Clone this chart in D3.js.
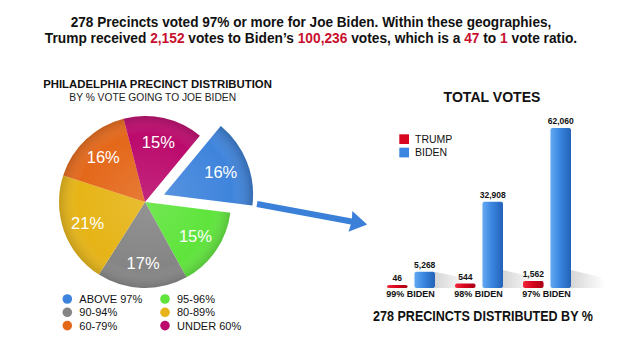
<!DOCTYPE html>
<html><head><meta charset="utf-8">
<script src="https://cdn.jsdelivr.net/npm/d3@7"></script>
<style>
html,body{margin:0;padding:0;background:#fff;}
svg{display:block;font-family:"Liberation Sans",Arial,Helvetica,sans-serif;}
</style></head>
<body>
<svg id="chart" width="640" height="360"></svg>
<script>
// ---------- DATA ----------
const titleLine1 = [["278 Precincts voted 97% or more for Joe Biden. Within these geographies,", false]];
const titleLine2 = [["Trump received ", false], ["2,152", true], [" votes to Biden\u2019s ", false], ["100,236", true], [" votes, which is a ", false], ["47", true], [" to ", false], ["1", true], [" vote ratio.", false]];
const pieTitle = "PHILADELPHIA PRECINCT DISTRIBUTION";
const pieSubtitle = "BY % VOTE GOING TO JOE BIDEN";
const pieCategories = ["ABOVE 97%", "95-96%", "90-94%", "80-89%", "60-79%", "UNDER 60%"];
const pieValues = [16, 15, 17, 21, 16, 15];
const barTitle = "TOTAL VOTES";
const barFooter = "278 PRECINCTS DISTRIBUTED BY %";
const barCategories = ["99% BIDEN", "98% BIDEN", "97% BIDEN"];
const seriesNames = ["TRUMP", "BIDEN"];
const trumpVotes = [46, 544, 1562];
const bidenVotes = [5268, 32908, 62060];

// ---------- STYLE ----------
const pieColors = ["#3f84dc", "#5fe43c", "#858585", "#e6b416", "#e4681a", "#bb0a6c"];
const seriesColors = {TRUMP: ["#f0283a", "#d8061e", "#a80014"], BIDEN: ["#64aaf2", "#3a86e0", "#2462b8"]};
const red = "#c8102e";

const svg = d3.select("#chart");
const defs = svg.append("defs");

function fitText(sel, cx, target) {
  const w = sel.node().getComputedTextLength();
  const s = target / w;
  sel.attr("transform", `translate(${cx},0) scale(${s},1) translate(${-cx},0)`);
}

// ---------- TITLE ----------
function titleLine(parts, y, width) {
  const t = svg.append("text").attr("x", 311).attr("y", y).attr("text-anchor", "middle")
    .attr("font-size", 14).attr("font-weight", "bold").attr("fill", "#111");
  parts.forEach(p => t.append("tspan").text(p[0]).attr("fill", p[1] ? red : "#111"));
  fitText(t, 311, width);
}
titleLine(titleLine1, 26.7, 481);
titleLine(titleLine2, 43.3, 533);

// ---------- PIE ----------
const cx = 145, cy = 202, R = 86, Rx = 89;
const pieTitleT = svg.append("text").attr("x", 157.5).attr("y", 88).attr("text-anchor", "middle")
  .attr("font-size", 11.5).attr("font-weight", "bold").attr("fill", "#111").text(pieTitle);
fitText(pieTitleT, 157.5, 229);
const pieSubT = svg.append("text").attr("x", 152.7).attr("y", 101.3).attr("text-anchor", "middle")
  .attr("font-size", 10).attr("fill", "#222").text(pieSubtitle);
fitText(pieSubT, 152.7, 167);

const startA = 39.6 * Math.PI / 180;
const pie = d3.pie().sort(null).value(d => d).startAngle(startA).endAngle(startA + 2 * Math.PI);
const arcs = pie(pieValues);

const shade = defs.append("radialGradient").attr("id", "pieShade").attr("gradientUnits", "userSpaceOnUse")
  .attr("cx", 0).attr("cy", 0).attr("r", 90);
shade.append("stop").attr("offset", "0%").attr("stop-color", "#fff").attr("stop-opacity", 0.12);
shade.append("stop").attr("offset", "75%").attr("stop-color", "#fff").attr("stop-opacity", 0.0);
shade.append("stop").attr("offset", "100%").attr("stop-color", "#000").attr("stop-opacity", 0.22);

const sliceG = svg.append("g");
arcs.forEach((a, i) => {
  const exploded = i === 0;
  const r = exploded ? Rx : R;
  const mid = (a.startAngle + a.endAngle) / 2;
  const off = exploded ? 20.5 : 0;
  const ox = cx + off * Math.sin(mid), oy = cy - off * Math.cos(mid);
  const arc = d3.arc().innerRadius(0).outerRadius(r);
  const g = sliceG.append("g").attr("transform", `translate(${ox},${oy})`);
  g.append("path").attr("d", arc(a)).attr("fill", pieColors[i]);
  g.append("path").attr("d", arc(a)).attr("fill", "url(#pieShade)");
  const lab = d3.arc().innerRadius(61).outerRadius(61);
  const [lx, ly] = lab.centroid(a);
  g.append("text").attr("x", lx).attr("y", ly).attr("dy", "0.36em").attr("text-anchor", "middle")
    .attr("font-size", 16.5).attr("fill", "#fff").text(a.data + "%");
});

// pie legend
const legG = svg.append("g");
pieCategories.forEach((c, i) => {
  const col = i % 2, row = Math.floor(i / 2);
  const x = col === 0 ? 67.3 : 165, y = 299 + row * 13.3;
  legG.append("circle").attr("cx", x).attr("cy", y).attr("r", 4.8).attr("fill", pieColors[i]);
  legG.append("text").attr("x", x + 12).attr("y", y).attr("dy", "0.36em").attr("font-size", 11)
    .attr("fill", "#111").text(c);
});

// ---------- ARROW ----------
const arrowG = svg.append("g").attr("transform", "translate(257,204) rotate(10.5)");
arrowG.append("path").attr("d", "M0,-3 L96,-3 L95,-10.5 L112,0 L95,10.5 L96,3 L0,3 Z").attr("fill", "#3a7fd8");

// ---------- BAR CHART ----------
const tv = svg.append("text").attr("x", 492).attr("y", 101.7).attr("text-anchor", "middle")
  .attr("font-size", 14).attr("font-weight", "bold").attr("fill", "#111").text(barTitle);
fitText(tv, 492, 97);
const ft = svg.append("text").attr("x", 483).attr("y", 321).attr("text-anchor", "middle")
  .attr("font-size", 14).attr("font-weight", "bold").attr("fill", "#111").text(barFooter);
fitText(ft, 483, 220);

// legend
seriesNames.forEach((s, i) => {
  const y = 134.3 + i * 13.4;
  svg.append("rect").attr("x", 399.3).attr("y", y).attr("width", 9.7).attr("height", 9.7).attr("fill", seriesColors[s][1]);
  svg.append("text").attr("x", 415).attr("y", y + 4.9).attr("dy", "0.36em").attr("font-size", 10.5)
    .attr("fill", "#111").text(s);
});

seriesNames.forEach(s => {
  const lg = defs.append("linearGradient").attr("id", "bar" + s).attr("x1", 0).attr("x2", 1).attr("y1", 0).attr("y2", 0);
  lg.append("stop").attr("offset", "0%").attr("stop-color", seriesColors[s][0]);
  lg.append("stop").attr("offset", "45%").attr("stop-color", seriesColors[s][1]);
  lg.append("stop").attr("offset", "100%").attr("stop-color", seriesColors[s][2]);
});
const sh = defs.append("linearGradient").attr("id", "shadow").attr("x1", 0).attr("x2", 1).attr("y1", 0).attr("y2", 0);
sh.append("stop").attr("offset", "0%").attr("stop-color", "#000").attr("stop-opacity", 0.16);
sh.append("stop").attr("offset", "100%").attr("stop-color", "#000").attr("stop-opacity", 0);

const baseY = 288, slab = 3;
const x0 = d3.scaleBand().domain(barCategories).range([377, 581]);
const x1 = d3.scaleBand().domain(seriesNames).range([10, 58]).paddingInner(0.25);
const y = d3.scaleLinear().domain([0, d3.max(bidenVotes)]).range([baseY - slab, 128]);
const fmt = d3.format(",");

const barData = barCategories.map((c, i) => ({cat: c, vals: [{s: "TRUMP", v: trumpVotes[i]}, {s: "BIDEN", v: bidenVotes[i]}]}));
const groups = svg.append("g").selectAll("g").data(barData).join("g")
  .attr("transform", d => `translate(${x0(d.cat)},0)`);

// shadows (Biden bars only)
groups.each(function(d) {
  const g = d3.select(this);
  const v = d.vals[1];
  const top = y(v.v);
  const h = Math.min(baseY - top, 18);
  const xr = x1(v.s) + x1.bandwidth();
  g.append("path")
    .attr("d", `M${xr},${baseY} L${xr},${baseY - h} L${xr + 30},${baseY - h * 0.6} L${xr + 34},${baseY} Z`)
    .attr("fill", "url(#shadow)");
});

groups.selectAll("rect.bar").data(d => d.vals).join("rect").attr("class", "bar")
  .attr("x", d => x1(d.s)).attr("width", x1.bandwidth())
  .attr("y", d => y(d.v)).attr("height", d => baseY - y(d.v))
  .attr("rx", 2).attr("fill", d => `url(#bar${d.s})`);

groups.selectAll("text.val").data(d => d.vals).join("text").attr("class", "val")
  .attr("x", d => x1(d.s) + x1.bandwidth() / 2).attr("y", d => y(d.v) - 4)
  .attr("text-anchor", "middle").attr("font-size", 8.5).attr("font-weight", "bold").attr("fill", "#111")
  .text(d => fmt(d.v));

groups.append("text").attr("x", x0.bandwidth() / 2 - 0.5).attr("y", 294).attr("dy", "0.36em")
  .attr("text-anchor", "middle").attr("font-size", 9).attr("font-weight", "bold").attr("fill", "#111")
  .text(d => d.cat);
</script>
</body></html>
